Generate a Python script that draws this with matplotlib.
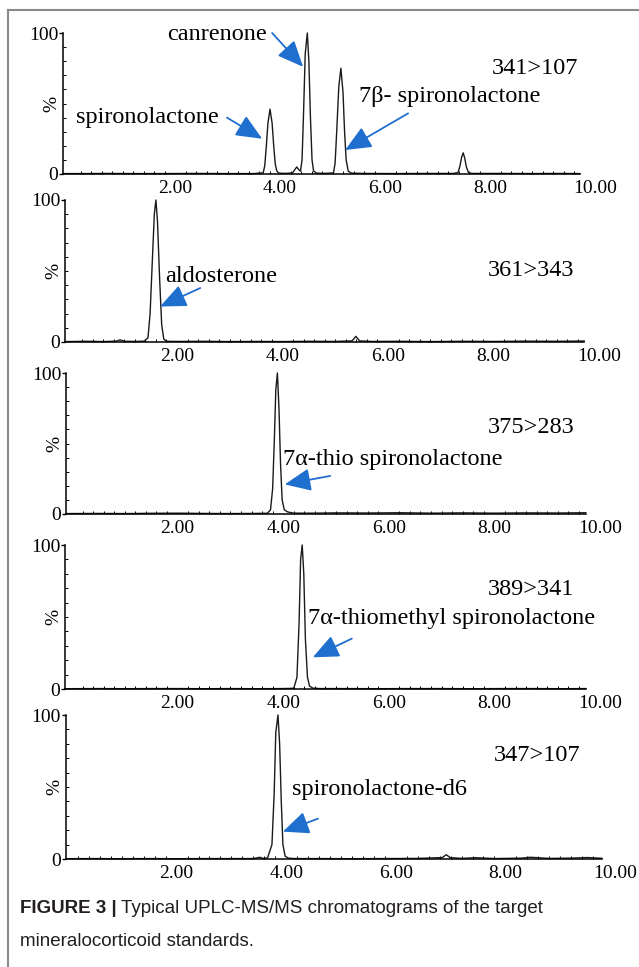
import matplotlib
matplotlib.use('Agg')
import matplotlib.pyplot as plt
from matplotlib.ticker import FixedLocator
import numpy as np

# ---- chromatogram traces (time in min, relative intensity %) ----
t1 = [-0.13, 0.3, 0.7, 1.2, 1.8, 2.4, 3.0, 3.5, 3.68, 3.71, 3.74, 3.77, 3.81, 3.85, 3.88, 3.91, 3.94, 3.98,
      4.10, 4.24, 4.28, 4.32, 4.36, 4.39, 4.42, 4.45, 4.48, 4.52, 4.55, 4.58, 4.61, 4.64, 4.70, 4.85,
      5.02, 5.05, 5.08, 5.12, 5.16, 5.20, 5.23, 5.26, 5.30, 5.36, 5.60, 6.2, 6.8, 7.3,
      7.39, 7.43, 7.46, 7.49, 7.52, 7.55, 7.59, 7.65, 8.2, 8.8, 9.3, 9.71]
y1 = [0.3, 0.3, 0.4, 0.3, 0.3, 0.4, 0.3, 0.3, 0.8, 6, 20, 36, 46, 36, 20, 7, 2, 0.6,
      0.4, 0.8, 3, 5, 3, 2, 10, 45, 85, 100, 80, 40, 10, 2, 0.6, 0.4,
      0.8, 8, 30, 62, 75, 58, 30, 10, 2, 0.6, 0.4, 0.3, 0.4, 0.4,
      1, 6, 12, 15, 11, 5, 1, 0.4, 0.4, 0.3, 0.4, 0.3]

t2 = [-0.12, 0.3, 0.6, 0.85, 0.92, 1.0, 1.2, 1.38, 1.45, 1.49, 1.53, 1.57, 1.60, 1.63, 1.67, 1.71, 1.75, 1.80,
      2.0, 2.5, 3.0, 3.5, 4.0, 4.5, 5.0, 5.32, 5.39, 5.46, 5.7, 6.2, 6.8, 7.4, 8.0, 8.6, 9.2, 9.72]
y2 = [0.3, 0.5, 0.3, 0.6, 1.5, 0.5, 0.4, 0.6, 3, 20, 55, 90, 100, 85, 45, 12, 2, 0.5,
      0.4, 0.5, 0.3, 0.4, 0.3, 0.5, 0.4, 0.8, 4, 0.8, 0.4, 0.5, 0.3, 0.5, 0.4, 0.6, 0.5, 0.7]

t3 = [-0.11, 0.5, 1.0, 1.5, 2.0, 2.5, 3.0, 3.4, 3.70, 3.76, 3.80, 3.83, 3.86, 3.89, 3.92, 3.95, 3.98, 4.02,
      4.08, 4.2, 4.6, 5.0, 5.6, 6.2, 6.8, 7.4, 8.0, 8.6, 9.2, 9.73]
y3 = [0.3, 0.4, 0.3, 0.5, 0.6, 0.4, 0.3, 0.4, 0.5, 3, 18, 50, 88, 100, 75, 35, 10, 3,
      1.5, 0.6, 0.6, 0.8, 0.7, 0.9, 0.6, 0.8, 0.6, 0.8, 0.7, 0.9]

t4 = [-0.13, 0.5, 1.0, 1.5, 2.0, 2.5, 3.0, 3.5, 4.0, 4.20, 4.26, 4.30, 4.33, 4.36, 4.39, 4.42, 4.46, 4.50,
      4.56, 4.7, 5.2, 5.8, 6.4, 7.0, 7.6, 8.2, 8.8, 9.3, 9.73]
y4 = [0.2, 0.3, 0.2, 0.3, 0.3, 0.2, 0.3, 0.2, 0.3, 0.5, 8, 45, 90, 100, 80, 35, 8, 2,
      0.6, 0.3, 0.3, 0.2, 0.3, 0.3, 0.2, 0.3, 0.3, 0.2, 0.3]

t5 = [-0.02, 0.5, 1.0, 1.5, 2.0, 2.5, 3.0, 3.4, 3.52, 3.58, 3.66, 3.74, 3.78, 3.81, 3.85, 3.88, 3.91, 3.94,
      3.98, 4.04, 4.15, 4.6, 5.2, 5.8, 6.4, 6.85, 6.92, 6.99, 7.2, 7.45, 7.8, 8.3, 8.45, 8.55, 8.8, 9.2, 9.5, 9.76]
y5 = [0.2, 0.3, 0.2, 0.3, 0.2, 0.3, 0.3, 0.3, 1.2, 0.4, 0.8, 10, 45, 88, 100, 80, 40, 10,
      2, 0.6, 0.3, 0.3, 0.2, 0.3, 0.4, 1, 3, 1, 0.4, 0.9, 0.3, 0.6, 1.2, 1, 0.4, 0.6, 1, 0.5]

traces = [(t1, y1), (t2, y2), (t3, y3), (t4, y4), (t5, y5)]
transitions = ['341>107', '361>343', '375>283', '389>341', '347>107']
tick_vals = [2, 4, 6, 8, 10]
tick_labels = ['2.00', '4.00', '6.00', '8.00', '10.00']

# compound labels: (panel, text, text_xy, arrow_from, arrow_to) in data coords
labels = [
    (0, 'canrenone', (2.80, 99), (3.85, 100), (4.44, 76)),
    (0, 'spironolactone', (1.47, 40), (2.99, 40), (3.66, 25)),
    (0, '7\u03b2- spironolactone', (7.24, 55), (6.44, 43), (5.24, 17)),
    (1, 'aldosterone', (2.83, 46), (2.44, 38), (1.68, 25)),
    (2, '7\u03b1-thio spironolactone', (6.08, 39), (4.89, 27), (4.03, 21)),
    (3, '7\u03b1-thiomethyl spironolactone', (7.18, 49), (5.30, 35), (4.56, 22)),
    (4, 'spironolactone-d6', (5.71, 48), (4.58, 28), (3.94, 19)),
]
trans_pos = [(8.86, 75), (8.71, 50), (8.69, 61), (8.69, 69), (8.58, 72)]

# ---- panel geometry in pixels: top, baseline, px of t=0, px per min, t start, t end
geom = [
    (33, 174, 70, 52.5, -0.13, 9.71),
    (200, 342, 71.5, 52.75, -0.12, 9.72),
    (373, 514, 72, 52.8, -0.11, 9.73),
    (545, 689, 72, 52.8, -0.13, 9.73),
    (715, 859, 67, 54.8, -0.02, 9.76),
]

W, H = 639, 967
fig = plt.figure(figsize=(W / 100, H / 100), dpi=100)
serif = 'Liberation Serif'
blue = '#1f6fce'

axes = []
for i, (top, base, x0, ppu, ts, te) in enumerate(geom):
    xmax = 10.06
    left = x0 + ts * ppu
    right = x0 + xmax * ppu
    ax = fig.add_axes([left / W, (H - base) / H, (right - left) / W, (base - top) / H])
    ax.set_xlim(ts, xmax)
    ax.set_ylim(0, 100)
    ax.patch.set_alpha(0)
    t, y = traces[i]
    ax.plot(t, y, color='#1a1a1a', lw=1.0, clip_on=False)
    for s in ['top', 'right']:
        ax.spines[s].set_visible(False)
    ax.spines['bottom'].set_bounds(ts, te)
    ax.spines['bottom'].set_linewidth(1.1)
    ax.spines['left'].set_linewidth(1.1)
    ax.set_xticks(tick_vals)
    ax.set_xticklabels(tick_labels, fontfamily=serif, fontsize=14)
    ax.xaxis.set_minor_locator(FixedLocator(np.arange(0.2, te, 0.2)))
    ax.tick_params(axis='x', which='major', length=0, pad=4)
    ax.tick_params(axis='x', which='minor', length=2, direction='in', width=0.7)
    ax.set_yticks([0, 100])
    ax.set_yticklabels(['0', '100'], fontfamily=serif, fontsize=14)
    ax.yaxis.set_minor_locator(FixedLocator(np.arange(10, 100, 10)))
    ax.tick_params(axis='y', which='major', length=3, direction='out', pad=0.5, width=1)
    ax.tick_params(axis='y', which='minor', length=2, direction='in', width=0.7)
    ax.annotate('%', xy=(0, 0.5), xycoords='axes fraction', xytext=(-11, 0),
                textcoords='offset pixels', rotation=90, ha='center', va='center',
                fontfamily=serif, fontsize=14)
    tx, ty = trans_pos[i]
    ax.text(tx, ty, transitions[i], ha='center', va='center', fontfamily=serif, fontsize=17.5)
    axes.append(ax)

for p, txt, txy, afrom, ato in labels:
    ax = axes[p]
    ax.text(txy[0], txy[1], txt, ha='center', va='center', fontfamily=serif, fontsize=17.5)
    ax.annotate('', xy=ato, xytext=afrom, annotation_clip=False,
                arrowprops=dict(arrowstyle='-|>,head_length=0.8,head_width=0.35', color=blue,
                                lw=1.3, mutation_scale=20, shrinkA=0, shrinkB=0))

# frame lines around the figure panel
fig.add_artist(plt.Line2D([8 / W, 1], [1 - 10 / H, 1 - 10 / H], color='#8a8a8a', lw=1.5))
fig.add_artist(plt.Line2D([8 / W, 8 / W], [0, 1 - 10 / H], color='#8a8a8a', lw=1.5))

# caption
cap_font = ['Liberation Sans Narrow', 'Liberation Sans']
cx = 20 / W
b1 = fig.text(cx, 1 - 913 / H, 'FIGURE 3 |', fontfamily=cap_font, fontweight='bold',
              fontsize=13.5, color='#231f20', va='baseline')
fig.canvas.draw()
ext = b1.get_window_extent()
fig.text((ext.x1 + 4) / W, 1 - 913 / H, 'Typical UPLC-MS/MS chromatograms of the target',
         fontfamily=cap_font, fontsize=13.5, color='#231f20', va='baseline')
fig.text(cx, 1 - 946 / H, 'mineralocorticoid standards.', fontfamily=cap_font, fontsize=13.5,
         color='#231f20', va='baseline')

fig.savefig('out.png', dpi=100)
